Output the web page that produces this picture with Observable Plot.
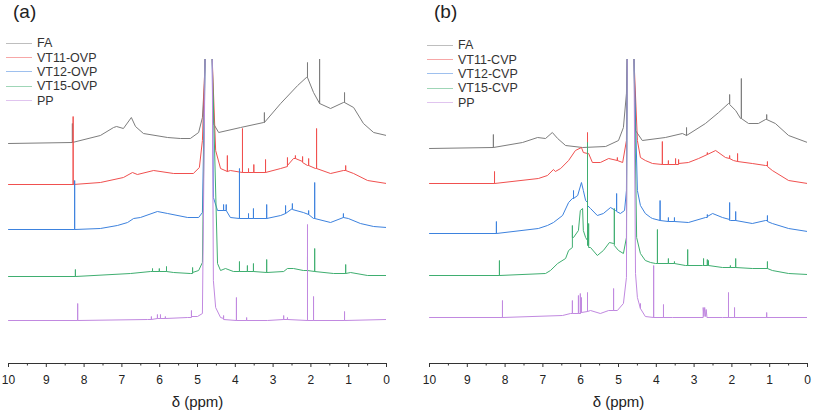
<!DOCTYPE html>
<html>
<head>
<meta charset="utf-8">
<script src="https://cdn.jsdelivr.net/npm/d3@7"></script>
<script src="https://cdn.jsdelivr.net/npm/@observablehq/plot@0.6"></script>
<style>
  body { margin: 0; background: #fff; font-family: "Liberation Sans", Arial, sans-serif; }
  #wrap { display: flex; width: 813px; height: 415px; }
  .panel { position: relative; }
  .tag { position: absolute; top: 0px; font-size: 19px; color: #222; line-height: 24px; }
  .legend { position: absolute; font-size: 12.5px; color: #333; }
  .legend .row { height: 14.4px; display: flex; align-items: center; white-space: nowrap; }
  .legend .sw { display: inline-block; width: 26px; height: 0; border-top: 1px solid; margin-right: 5px; opacity: 0.5; }
</style>
</head>
<body>
<div id="wrap"></div>
<script>
// ---- tick labels / text ----
const majorTicks = [10, 9, 8, 7, 6, 5, 4, 3, 2, 1, 0];
const minorTicks = [9.5, 8.5, 7.5, 6.5, 5.5, 4.5, 3.5, 2.5, 1.5, 0.5];
const xLabel = "δ (ppm)";
const panelTags = ["(a)", "(b)"];
const namesA = ["FA", "VT11-OVP", "VT12-OVP", "VT15-OVP", "PP"];
const namesB = ["FA", "VT11-CVP", "VT12-CVP", "VT15-CVP", "PP"];
const colors = ["#7d7d7d", "#f0504f", "#3d82de", "#3fae70", "#c189e0"];

// vertical stacking offsets of each trace (intensity units)
const offsetsA = [220, 179, 134, 87, 43];
const offsetsB = [215, 180, 130, 88, 46];

// ---- spectra: [ppm, relative intensity] ----
const faA = [[10,0],[8.31,1],[8.31,20],[8.31,1],[7.57,8],[7.22,16],[7.14,17],[6.96,15],[6.75,26],[6.64,17],[6.43,10],[5.79,6],[5.45,5],[5.19,5],[4.97,11],[4.87,26],[4.82,60],[4.80,84],[4.79,400],[4.62,400],[4.61,84],[4.58,20],[4.44,11],[3.86,16],[3.25,21],[3.23,21],[3.23,31],[3.23,21],[2.80,40],[2.35,58],[2.12,66],[2.09,66],[2.09,81],[2.09,66],[1.93,51],[1.77,40],[1.77,85],[1.77,40],[1.48,35],[1.14,41],[1.11,41],[1.11,51],[1.11,41],[0.87,36],[0.61,20],[0.34,11],[0,8]];
const vt11ovp = [[10,0],[8.29,0],[8.29,68],[8.29,0],[7.57,2],[6.96,7],[6.72,12],[6.59,10],[6.16,14],[5.63,11],[5.11,11],[4.95,17],[4.87,44],[4.80,125],[4.79,400],[4.62,400],[4.61,125],[4.52,34],[4.39,16],[4.21,13],[4.21,29],[4.21,13],[4.13,14],[3.81,12],[3.81,56],[3.81,12],[3.65,12],[3.65,16],[3.65,12],[3.51,12],[3.51,20],[3.51,12],[3.20,12],[3.20,25],[3.20,12],[2.80,16],[2.62,18],[2.62,27],[2.62,19],[2.46,26],[2.41,26],[2.41,29],[2.41,26],[2.22,23],[2.22,28],[2.22,22],[2.09,19],[2.06,19],[2.06,26],[2.06,19],[1.88,16],[1.85,16],[1.85,56],[1.85,16],[1.48,11],[1.14,14],[1.08,14],[1.08,19],[1.08,14],[0.87,11],[0.50,4],[0,1]];
const vt12ovp = [[10,0],[8.25,0],[8.25,49],[8.25,0],[7.57,1],[7.12,4],[6.85,7],[6.69,11],[6.51,12],[6.06,18],[5.79,16],[5.26,12],[4.97,12],[4.87,17],[4.80,170],[4.79,400],[4.62,400],[4.61,170],[4.58,32],[4.47,19],[4.31,19],[4.31,25],[4.31,19],[4.24,19],[4.24,25],[4.24,19],[4.13,12],[3.89,11],[3.89,61],[3.89,11],[3.65,11],[3.65,16],[3.65,11],[3.52,11],[3.52,21],[3.52,11],[3.17,11],[3.17,25],[3.17,11],[2.80,14],[2.67,16],[2.67,24],[2.67,16],[2.49,21],[2.49,26],[2.49,20],[2.20,17],[2.06,15],[2.06,19],[2.06,15],[1.93,11],[1.90,11],[1.90,47],[1.90,11],[1.48,7],[1.14,12],[1.14,16],[1.14,12],[1.01,11],[0.69,6],[0.34,3],[0,2]];
const vt15ovp = [[10,0],[8.23,0],[8.23,7],[8.23,0],[6.77,3],[6.24,5],[6.19,5],[6.19,8],[6.19,5],[6.01,5],[6.01,8],[6.01,5],[5.82,5],[5.82,10],[5.82,5],[5.63,4],[5.19,3],[5.13,3],[5.13,9],[5.13,4],[4.97,6],[4.87,14],[4.80,217],[4.79,400],[4.62,400],[4.61,217],[4.47,13],[4.39,6],[4.26,8],[4.05,5],[3.89,5],[3.89,15],[3.89,5],[3.68,5],[3.68,11],[3.68,5],[3.52,5],[3.52,13],[3.52,5],[3.17,4],[3.17,17],[3.17,4],[2.72,5],[2.62,8],[2.46,8],[2.20,6],[2.09,6],[2.09,20],[2.09,6],[1.90,5],[1.90,28],[1.90,5],[1.40,3],[1.08,3],[1.08,12],[1.08,3],[0.95,4],[0.50,1],[0,1]];
const ppA = [[10,0],[8.17,0],[8.17,17],[8.17,0],[6.32,1],[6.22,1],[6.22,4],[6.22,1],[6.06,2],[6.06,6],[6.06,2],[5.98,2],[5.98,6],[5.98,2],[5.85,2],[5.85,4],[5.85,2],[5.26,3],[5.16,3],[5.16,10],[5.16,4],[5.00,4],[4.87,7],[4.80,261],[4.79,400],[4.62,400],[4.61,261],[4.58,40],[4.52,13],[4.39,3],[4.31,2],[4.31,5],[4.31,1],[3.97,0],[3.97,23],[3.97,0],[3.70,0],[3.70,3],[3.70,0],[3.15,0],[2.72,1],[2.72,5],[2.72,1],[2.62,1],[2.62,3],[2.62,1],[2.09,0],[2.09,96],[2.09,0],[1.93,0],[1.93,24],[1.93,0],[1.11,0],[1.11,9],[1.11,0],[0,1]];

const faB = [[10,0],[8.31,1],[8.31,14],[8.31,1],[7.54,6],[7.14,11],[6.93,10],[6.75,16],[6.61,10],[6.40,3],[5.95,1],[5.34,2],[5.00,8],[4.87,21],[4.79,55],[4.77,89],[4.76,400],[4.60,400],[4.59,89],[4.55,18],[4.37,8],[3.76,11],[3.31,15],[3.20,13],[3.20,21],[3.20,13],[2.70,25],[2.35,36],[2.09,45],[2.06,45],[2.06,54],[2.06,44],[1.90,38],[1.77,30],[1.75,30],[1.75,70],[1.75,30],[1.56,25],[1.30,25],[1.11,29],[1.08,29],[1.08,34],[1.08,29],[0.85,25],[0.50,13],[0,6]];
const vt11cvp = [[10,0],[8.28,0],[8.28,12],[8.28,0],[7.12,5],[6.88,8],[6.72,14],[6.67,12],[6.53,15],[6.32,23],[6.14,33],[5.98,36],[5.93,31],[5.82,30],[5.82,51],[5.82,30],[5.79,30],[5.69,21],[5.48,21],[5.26,25],[5.03,23],[5.03,26],[5.03,23],[4.89,21],[4.79,43],[4.77,124],[4.76,400],[4.60,400],[4.59,124],[4.50,43],[4.42,26],[4.29,23],[4.10,20],[3.84,19],[3.84,42],[3.84,19],[3.68,19],[3.68,23],[3.68,19],[3.49,19],[3.49,25],[3.49,19],[3.41,19],[3.41,24],[3.41,20],[3.15,21],[2.88,25],[2.65,29],[2.65,31],[2.65,29],[2.43,33],[2.17,26],[2.06,25],[2.06,28],[2.06,25],[1.96,23],[1.85,22],[1.85,30],[1.85,22],[1.46,20],[1.11,18],[1.06,18],[1.06,22],[1.06,17],[0.93,13],[0.50,3],[0,0]];
const vt12cvp = [[10,0],[8.23,0],[8.23,12],[8.23,0],[7.12,5],[6.88,8],[6.72,11],[6.48,18],[6.32,31],[6.22,35],[6.19,35],[6.19,43],[6.19,35],[6.08,38],[5.98,51],[5.93,43],[5.87,33],[5.82,31],[5.82,53],[5.82,28],[5.74,25],[5.56,18],[5.40,20],[5.21,26],[5.08,23],[5.05,23],[5.05,40],[5.05,22],[4.95,20],[4.84,23],[4.79,43],[4.77,174],[4.76,400],[4.60,400],[4.59,174],[4.50,43],[4.42,28],[4.29,20],[4.15,16],[4.10,15],[3.90,13],[3.90,33],[3.90,13],[3.68,12],[3.68,16],[3.68,12],[3.52,12],[3.52,16],[3.52,12],[3.15,11],[2.70,16],[2.65,16],[2.65,19],[2.65,17],[2.51,20],[2.25,16],[2.06,14],[2.06,31],[2.06,13],[2.04,13],[1.90,13],[1.90,22],[1.90,13],[1.46,10],[1.11,13],[1.06,13],[1.06,18],[1.06,12],[0.93,10],[0.50,5],[0,2]];
const vt15cvp = [[10,0],[8.15,0],[8.15,15],[8.15,0],[6.93,2],[6.80,5],[6.61,12],[6.40,17],[6.32,25],[6.22,28],[6.22,50],[6.22,38],[6.19,38],[6.06,45],[6.01,65],[5.95,67],[5.93,45],[5.87,38],[5.82,35],[5.82,133],[5.82,30],[5.79,30],[5.79,52],[5.79,28],[5.74,28],[5.56,20],[5.40,25],[5.24,33],[5.13,32],[5.11,32],[5.11,67],[5.11,30],[5.00,25],[4.87,22],[4.79,38],[4.77,216],[4.76,400],[4.60,400],[4.59,216],[4.52,38],[4.42,22],[4.29,15],[4.15,13],[4.02,12],[3.97,12],[3.97,46],[3.97,12],[3.68,12],[3.68,17],[3.68,12],[3.52,12],[3.52,14],[3.52,12],[3.23,10],[3.17,10],[3.17,26],[3.17,10],[2.78,10],[2.75,10],[2.75,17],[2.75,10],[2.65,10],[2.65,16],[2.65,10],[2.62,10],[2.62,15],[2.62,10],[2.25,8],[2.04,8],[2.04,10],[2.04,8],[1.90,8],[1.90,17],[1.90,8],[1.46,7],[1.06,7],[1.06,14],[1.06,7],[0.93,5],[0.50,2],[0,1]];
const ppB = [[10,0],[8.07,0],[8.07,17],[8.07,0],[6.48,2],[6.27,4],[6.22,4],[6.22,17],[6.22,4],[6.06,4],[6.06,22],[6.06,4],[6.01,4],[6.01,24],[6.01,4],[5.98,5],[5.98,20],[5.98,5],[5.82,6],[5.82,25],[5.82,6],[5.74,7],[5.48,4],[5.26,7],[5.13,7],[5.13,29],[5.13,7],[5.03,7],[4.87,14],[4.79,40],[4.77,258],[4.76,400],[4.60,400],[4.59,258],[4.55,44],[4.50,20],[4.42,9],[4.42,14],[4.42,9],[4.29,1],[4.07,0],[4.07,52],[4.07,0],[3.81,0],[3.81,13],[3.81,0],[3.57,0],[2.76,0],[2.76,10],[2.74,1],[2.72,10],[2.70,1],[2.68,8],[2.66,0],[2.25,0],[2.09,0],[2.09,25],[2.09,0],[1.93,0],[1.93,10],[1.93,0],[1.08,0],[1.08,5],[1.08,0],[0,0]];

const spectraA = [faA, vt11ovp, vt12ovp, vt15ovp, ppA];
const spectraB = [faB, vt11cvp, vt12cvp, vt15cvp, ppB];

function makePanel(spectra, names, offsets, opts) {
  const rows = spectra.flatMap((s, i) => s.map(([p, v]) => ({name: names[i], ppm: p, y: v + offsets[i]})));
  const chart = Plot.plot({
    width: opts.width, height: 415,
    marginLeft: opts.ml, marginRight: opts.mr, marginTop: 59, marginBottom: 52,
    style: {fontFamily: "'Liberation Sans', Arial, sans-serif", color: "#222", background: "transparent", overflow: "visible"},
    x: {domain: [10, 0]},
    y: {domain: [0, 304], axis: null},
    color: {domain: names, range: colors},
    marks: [
      Plot.line(rows, {x: "ppm", y: "y", z: "name", stroke: "name", strokeWidth: 1, clip: true}),
      Plot.ruleY([0], {stroke: "#333", strokeWidth: 1.2}),
      Plot.axisX({ticks: majorTicks, tickSize: 4, tickPadding: 8, fontSize: 12, label: null, stroke: "#333"}),
      Plot.axisX({ticks: minorTicks, tickSize: 2.5, tickFormat: () => "", label: null, stroke: "#333"}),
      Plot.text([xLabel], {frameAnchor: "bottom", dy: 43, fontSize: 15, fill: "#222"})
    ]
  });
  const div = document.createElement("div");
  div.className = "panel";
  div.style.width = opts.width + "px";
  div.appendChild(chart);
  const tag = document.createElement("div");
  tag.className = "tag";
  tag.style.left = opts.tagLeft + "px";
  tag.textContent = opts.tag;
  div.appendChild(tag);
  const leg = document.createElement("div");
  leg.className = "legend";
  leg.style.left = opts.legLeft + "px";
  leg.style.top = opts.legTop + "px";
  names.forEach((n, i) => {
    const r = document.createElement("div");
    r.className = "row";
    const sw = document.createElement("span");
    sw.className = "sw";
    sw.style.borderColor = colors[i];
    r.appendChild(sw);
    r.appendChild(document.createTextNode(n));
    leg.appendChild(r);
  });
  div.appendChild(leg);
  return div;
}

const wrap = document.getElementById("wrap");
wrap.appendChild(makePanel(spectraA, namesA, offsetsA, {width: 406, ml: 8, mr: 20, tag: panelTags[0], tagLeft: 13, legLeft: 6, legTop: 36}));
wrap.appendChild(makePanel(spectraB, namesB, offsetsB, {width: 407, ml: 23, mr: 6, tag: panelTags[1], tagLeft: 28, legLeft: 21, legTop: 38}));
</script>
</body>
</html>
